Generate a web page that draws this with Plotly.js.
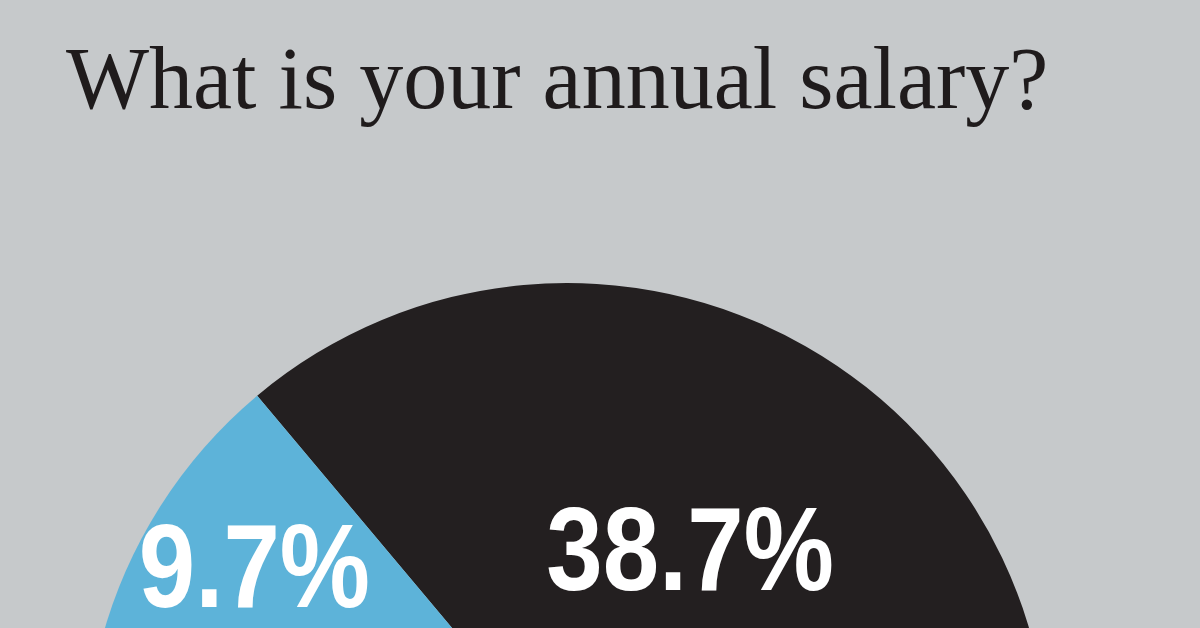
<!DOCTYPE html>
<html>
<head>
<meta charset="utf-8">
<script src="https://cdn.plot.ly/plotly-3.0.1.min.js"></script>
<style>
  html, body { margin: 0; padding: 0; background: #c6c9cb; overflow: hidden; }
  #chart { width: 1200px; height: 1300px; }
</style>
</head>
<body>
<div id="chart"></div>
<script>
// salary brackets, in drawing order (clockwise from the black slice)
var brackets = ['Bracket A', 'Other brackets', 'Bracket B'];
var shares = [38.7, 51.6, 9.7];
var sliceColors = ['#231f20', '#8c8f91', '#5db3d9'];

var data = [{
  type: 'pie',
  labels: brackets,
  values: shares,
  sort: false,
  direction: 'clockwise',
  rotation: -40,
  marker: { colors: sliceColors, line: { width: 0 } },
  textinfo: 'text',
  text: shares.map(function (v) { return v.toFixed(1) + '%'; }),
  textposition: 'inside',
  insidetextorientation: 'horizontal',
  insidetextfont: {
    family: 'Liberation Sans, Arial, sans-serif',
    size: 118,
    color: '#ffffff',
    weight: 'bold'
  },
  hoverinfo: 'none',
  domain: { x: [0.0708, 0.8742], y: [0.0408, 0.7823] }
}];

var layout = {
  width: 1200,
  height: 1300,
  margin: { l: 0, r: 0, t: 0, b: 0 },
  paper_bgcolor: '#c6c9cb',
  plot_bgcolor: '#c6c9cb',
  showlegend: false,
  uniformtext: { mode: 'show', minsize: 118 },
  title: {
    text: 'What is your annual salary?',
    font: { family: 'Liberation Serif, Times New Roman, serif', size: 88, color: '#1f1b1c' },
    xref: 'container',
    yref: 'container',
    x: 66 / 1200,
    xanchor: 'left',
    y: 1 - 77 / 1300,
    yanchor: 'middle'
  }
};

Plotly.newPlot('chart', data, layout, { staticPlot: true }).then(function (gd) {
  // the original labels use a condensed face; squeeze the bold sans horizontally
  gd.querySelectorAll('text.slicetext').forEach(function (t) {
    var tr = t.getAttribute('transform') || '';
    t.setAttribute('transform', tr + ' scale(0.86,1)');
  });
});
</script>
</body>
</html>
